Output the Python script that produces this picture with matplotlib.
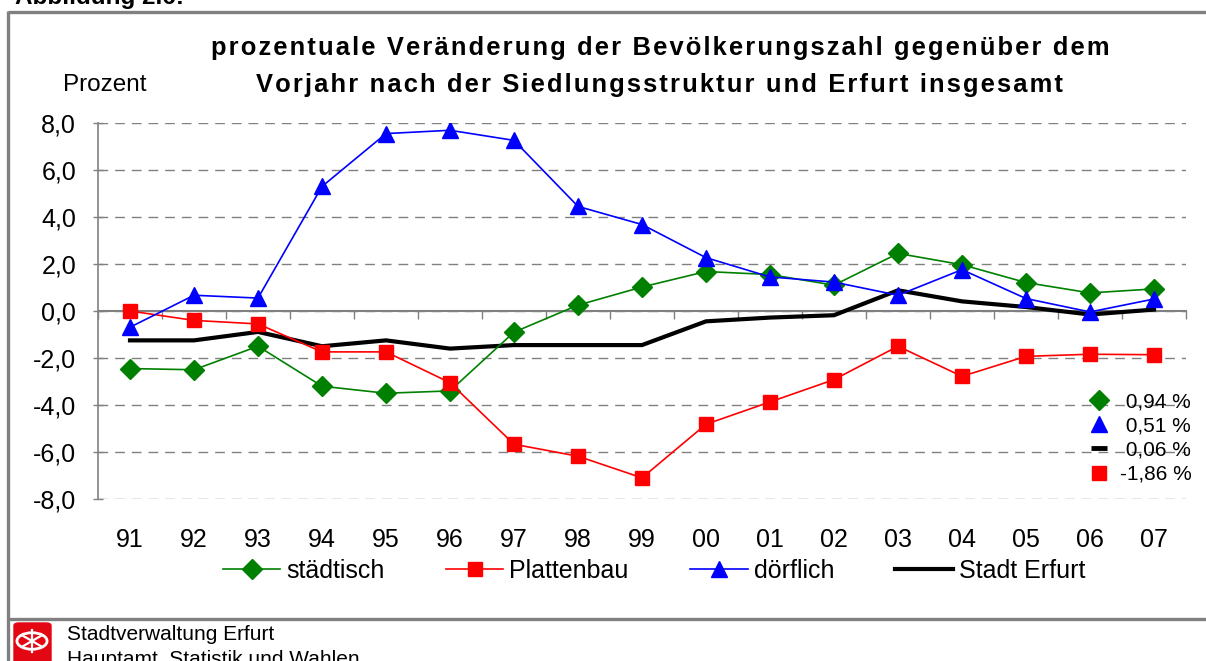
import math
import matplotlib
matplotlib.use("Agg")
import matplotlib.pyplot as plt
from matplotlib.lines import Line2D
from matplotlib.patches import FancyBboxPatch, Circle

plt.rcParams['font.family'] = ['Liberation Sans', 'DejaVu Sans']

# ---------------- data ----------------
years = ["91", "92", "93", "94", "95", "96", "97", "98", "99",
         "00", "01", "02", "03", "04", "05", "06", "07"]
staedtisch = [-2.45, -2.5, -1.5, -3.2, -3.5, -3.4, -0.9, 0.25, 1.02,
              1.68, 1.55, 1.1, 2.45, 1.97, 1.21, 0.77, 0.94]
plattenbau = [0.0, -0.4, -0.55, -1.74, -1.74, -3.05, -5.67, -6.18, -7.1,
              -4.82, -3.87, -2.92, -1.5, -2.78, -1.93, -1.84, -1.86]
doerflich = [-0.69, 0.67, 0.55, 5.3, 7.55, 7.69, 7.26, 4.45, 3.68,
             2.27, 1.45, 1.23, 0.67, 1.76, 0.53, -0.04, 0.51]
erfurt = [-1.25, -1.25, -0.89, -1.5, -1.25, -1.6, -1.45, -1.45, -1.45,
          -0.44, -0.28, -0.18, 0.88, 0.41, 0.17, -0.15, 0.06]
series_names = ["städtisch", "Plattenbau", "dörflich", "Stadt Erfurt"]
yticks = [-8, -6, -4, -2, 0, 2, 4, 6, 8]

title1 = "prozentuale Veränderung der Bevölkerungszahl gegenüber dem"
title2 = "Vorjahr nach der Siedlungsstruktur und Erfurt insgesamt"

W, H = 1206, 661
def fx(p): return p / W
def fy(p): return 1 - p / H

GREEN, RED, BLUE, BLACK, GRAY = "#008000", "#FF0000", "#0000FF", "#000000", "#808080"

fig = plt.figure(figsize=(W / 100, H / 100), dpi=100)
ax = fig.add_axes([fx(98), fy(499), (1186 - 98) / W, (499 - 123) / H])

x = list(range(len(years)))
ax.set_xlim(-0.5, len(years) - 0.5)
ax.set_ylim(-8, 8)

for v in yticks:
    ax.axhline(v, color=GRAY, lw=1.0, ls=(0, (7, 5)), zorder=1)

l_erf, = ax.plot(x, erfurt, color=BLACK, lw=3.0, zorder=3, solid_joinstyle='round')
l_st, = ax.plot(x, staedtisch, color=GREEN, lw=1.2, marker='D', ms=10,
                mec=GREEN, mfc=GREEN, zorder=4)
l_pl, = ax.plot(x, plattenbau, color=RED, lw=1.2, marker='s', ms=10,
                mec=RED, mfc=RED, zorder=5)
l_do, = ax.plot(x, doerflich, color=BLUE, lw=1.2, marker='^', ms=12,
                mec=BLUE, mfc=BLUE, zorder=6)

# axes styling
for s in ['top', 'right']:
    ax.spines[s].set_visible(False)
ax.spines['left'].set_color(GRAY)
ax.spines['left'].set_linewidth(1.2)
ax.spines['bottom'].set_position(('data', 0))
ax.spines['bottom'].set_color(GRAY)
ax.spines['bottom'].set_linewidth(1.5)
ax.spines['bottom'].set_zorder(2)

ax.set_yticks(yticks)
ax.set_yticklabels([f"{v:.1f}".replace('.', ',') for v in yticks])
ax.tick_params(axis='y', direction='inout', length=7.5, width=1.0, color=GRAY,
               labelsize=18, pad=12)

bounds = [i - 0.5 for i in range(len(years) + 1)]
ax.set_xticks(bounds)
ax.set_xticklabels([])
ax.tick_params(axis='x', direction='out', length=5.5, width=1.0, color=GRAY)

sec = ax.secondary_xaxis('bottom')
sec.set_xticks(x)
sec.set_xticklabels(years)
sec.tick_params(axis='x', length=0, labelsize=18, pad=21)
sec.spines['bottom'].set_visible(False)

# bottom legend
leg = fig.legend([l_st, l_pl, l_do, l_erf], series_names, loc='center',
                 bbox_to_anchor=(fx(654), fy(571)), ncol=4, frameon=False,
                 handlelength=2.3, handletextpad=0.24, columnspacing=2.45,
                 fontsize=18, borderpad=0, borderaxespad=0)

# right value legend (2007 values)
def fmtv(v):
    s = f"{v:.2f}".replace('.', ',') + " %"
    return s if v < 0 else "\u2008" + s

h2 = [Line2D([], [], ls='None', marker='D', ms=10, color=GREEN),
      Line2D([], [], ls='None', marker='^', ms=12, color=BLUE),
      Line2D([], [], ls='None', marker='_', ms=12, mew=3.5, color=BLACK),
      Line2D([], [], ls='None', marker='s', ms=10, color=RED)]
lab2 = [fmtv(staedtisch[-1]), fmtv(doerflich[-1]), fmtv(erfurt[-1]), fmtv(plattenbau[-1])]
leg2 = fig.legend(h2, lab2, loc='center right', bbox_to_anchor=(fx(1192), fy(438)),
                  frameon=False, handlelength=0.95, handletextpad=0.55,
                  labelspacing=0.25, fontsize=15, borderpad=0, borderaxespad=0)

# titles
def spaced(s):
    return "\u200a".join(s)
fig.text(fx(660), fy(48), spaced(title1), ha='center', va='center',
         fontsize=18.4, fontweight='bold')
fig.text(fx(659), fy(85), spaced(title2), ha='center', va='center',
         fontsize=18.4, fontweight='bold')
fig.text(fx(63), fy(85), "Prozent", ha='left', va='center', fontsize=17.5)
fig.text(fx(15), fy(4), "Abbildung 2.6:", ha='left', va='baseline',
         fontsize=17.5, fontweight='bold')

# frame
fr = dict(color=GRAY, lw=2.4, solid_capstyle='butt')
fig.add_artist(Line2D([fx(8), 1.0], [fy(12), fy(12)], **fr))
fig.add_artist(Line2D([fx(8), 1.0], [fy(619), fy(619)], **fr))
fig.add_artist(Line2D([fx(8), fx(8)], [fy(11), 0.0], **fr))

# footer logo
logo = FancyBboxPatch((fx(14), fy(664)), fx(37), (664 - 623) / H,
                      boxstyle="round,pad=0,rounding_size=0.004",
                      transform=fig.transFigure, color="#E30613", zorder=5)
fig.add_artist(logo)
fig.add_artist(Circle((fx(32), fy(641)), 0.0125, transform=fig.transFigure,
                      fill=False, ec="white", lw=2.0, zorder=6))
for k in range(6):
    a = math.pi / 6 + k * math.pi / 3
    fig.add_artist(Line2D([fx(32), fx(32 + 11 * math.cos(a))],
                          [fy(641), fy(641 - 11 * math.sin(a))],
                          color="white", lw=1.6, zorder=6))
fig.text(fx(67), fy(640), "Stadtverwaltung Erfurt", ha='left', va='baseline', fontsize=15)
fig.text(fx(67), fy(665), "Hauptamt, Statistik und Wahlen", ha='left', va='baseline', fontsize=15)

fig.savefig("out.png", dpi=100)
